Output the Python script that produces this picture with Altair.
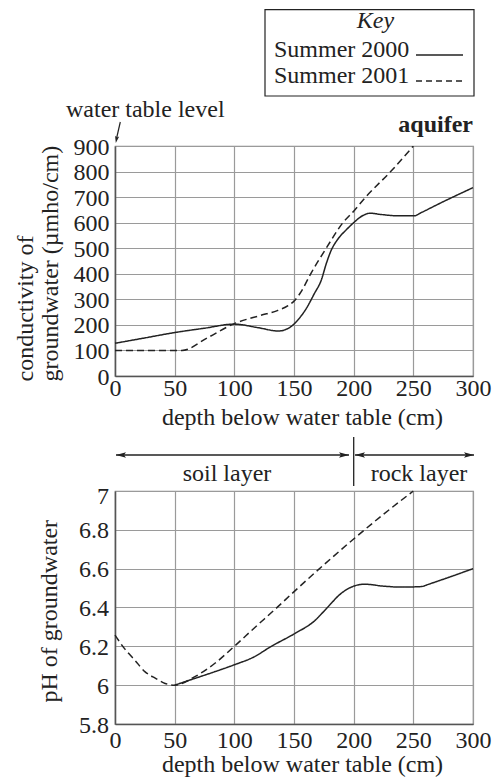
import altair as alt
import pandas as pd

FONT = "Liberation Serif"
INK = "#222222"
SERIES = ["Summer 2000", "Summer 2001"]

depth_ticks = [0, 50, 100, 150, 200, 250, 300]
cond_ticks = [0, 100, 200, 300, 400, 500, 600, 700, 800, 900]
ph_ticks = [5.8, 6, 6.2, 6.4, 6.6, 6.8, 7]

# conductivity of groundwater (umho/cm)
cond_2000_depth = [0, 25, 50, 75, 100, 120, 137, 143, 148, 153, 160, 167, 173, 177,
                   181, 187, 194, 200, 207, 214, 223, 237, 251, 256, 275, 300]
cond_2000 = [128, 149, 170, 187, 203, 189, 176, 182, 195, 218, 262, 322, 377, 439,
             490, 537, 573, 600, 626, 637, 632, 627, 627, 638, 682, 737]
cond_2001_depth = [0, 56, 78, 100, 122, 136, 145, 150, 156, 164, 177, 191, 200, 210,
                   231, 250]
cond_2001 = [100, 100, 151, 205, 237, 256, 275, 293, 330, 400, 500, 600, 645, 700,
             800, 900]

# pH of groundwater
ph_2000_depth = [50, 67, 84, 100, 116, 131, 151, 167, 178, 189, 200, 209, 225, 240,
                 257, 262, 280, 300]
ph_2000 = [6.0, 6.035, 6.07, 6.105, 6.144, 6.2, 6.267, 6.33, 6.40, 6.47, 6.51, 6.52,
           6.51, 6.505, 6.508, 6.518, 6.556, 6.6]
ph_2001_depth = [0, 8, 17, 25, 34, 42, 50, 67, 84, 100, 117, 134, 151, 175, 200, 225, 250]
ph_2001 = [6.258, 6.188, 6.126, 6.07, 6.035, 6.009, 6.0, 6.044, 6.114, 6.2, 6.296,
           6.39, 6.487, 6.62, 6.753, 6.88, 7.0]

cond_df = pd.concat([
    pd.DataFrame({"depth": cond_2000_depth, "value": cond_2000, "series": SERIES[0]}),
    pd.DataFrame({"depth": cond_2001_depth, "value": cond_2001, "series": SERIES[1]}),
])
ph_df = pd.concat([
    pd.DataFrame({"depth": ph_2000_depth, "value": ph_2000, "series": SERIES[0]}),
    pd.DataFrame({"depth": ph_2001_depth, "value": ph_2001, "series": SERIES[1]}),
])
one = pd.DataFrame({"k": [0]})

dash = alt.StrokeDash("series:N", scale=alt.Scale(domain=SERIES, range=[[1, 0], [7, 4]]),
                      legend=None)


def txt(s, x, y, align="left", **kw):
    return alt.Chart(one).mark_text(text=s, font=FONT, fontSize=24, color=INK, align=align,
                                    baseline="alphabetic", **kw).encode(
        x=alt.value(x), y=alt.value(y))


def rule(x, x2, y, y2, width=1.3, **kw):
    return alt.Chart(one).mark_rule(color=INK, strokeWidth=width, **kw).encode(
        x=alt.value(x), x2=alt.value(x2), y=alt.value(y), y2=alt.value(y2))


def head(x, y, shape, size, angle=0):
    return alt.Chart(one).mark_point(shape=shape, size=size, filled=True, color=INK,
                                     opacity=1, angle=angle).encode(
        x=alt.value(x), y=alt.value(y))


RIGHT = "M0,0L-2,-0.55L-1.6,0L-2,0.55Z"
LEFT = "M0,0L2,-0.55L1.6,0L2,0.55Z"
DOWN = "M0,0L-0.6,-2L0,-1.6L0.6,-2Z"

# ---------------- top chart ----------------
x_top = alt.X("depth:Q", scale=alt.Scale(domain=[0, 300], nice=False),
              axis=alt.Axis(values=depth_ticks, title="depth below water table (cm)",
                            titleX=187, titleY=48, titleBaseline="alphabetic",
                            titleAlign="center", labelPadding=0, labelFlush=False))
y_top = alt.Y("value:Q", scale=alt.Scale(domain=[0, 900], nice=False),
              axis=alt.Axis(values=cond_ticks, format="d",
                            title=["conductivity of", "groundwater (µmho/cm)"],
                            titleAngle=270, titleAlign="left", titleBaseline="alphabetic",
                            titleX=-83, titleY=235, titleLineHeight=25,
                            labelPadding=6, labelOffset=1, labelFlush=False))

top_lines = alt.Chart(cond_df).mark_line(interpolate="monotone", color=INK,
                                         strokeWidth=1.5).encode(
    x=x_top, y=y_top, strokeDash=dash)

anchor = alt.Chart(one).mark_rule(opacity=0, strokeWidth=0).encode(
    x=alt.value(-106), x2=alt.value(-105), y=alt.value(-137), y2=alt.value(-137))

key_box = alt.Chart(one).mark_rect(filled=False, stroke=INK, strokeWidth=1.2).encode(
    x=alt.value(150), x2=alt.value(359), y=alt.value(-136.3), y2=alt.value(-50))

top = alt.layer(
    top_lines,
    anchor,
    key_box,
    txt("Key", 260.5, -118, align="center", fontStyle="italic"),
    txt("Summer 2000", 159, -89),
    txt("Summer 2001", 159, -63),
    rule(301, 348, -91, -91),
    rule(301, 348, -65, -65, strokeDash=[6, 4]),
    txt("aquifer", 358, -14, align="right", fontWeight="bold"),
    txt("water table level", -49, -29),
    rule(5.3, 1.4, -24, -7, width=1.2),
    head(0.8, -3, DOWN, 49, angle=11),
).properties(width=358, height=230)

# ---------------- bottom chart ----------------
x_bot = alt.X("depth:Q", scale=alt.Scale(domain=[0, 300], nice=False),
              axis=alt.Axis(values=depth_ticks, title="depth below water table (cm)",
                            titleX=187, titleY=47, titleBaseline="alphabetic",
                            titleAlign="center", labelPadding=4, labelFlush=False))
y_bot = alt.Y("value:Q", scale=alt.Scale(domain=[5.8, 7.0], nice=False, zero=False),
              axis=alt.Axis(values=ph_ticks, format="~g", title="pH of groundwater",
                            titleAngle=270, titleAlign="left", titleBaseline="alphabetic",
                            titleX=-59, titleY=211, labelPadding=6.5, labelFlush=False,
                            labelOffset={"condition": {"test": "datum.value === 7",
                                                       "value": 5}, "value": 1}))

bot_lines = alt.Chart(ph_df).mark_line(interpolate="monotone", color=INK,
                                       strokeWidth=1.5).encode(
    x=x_bot, y=y_bot, strokeDash=dash)

bottom = alt.layer(
    bot_lines,
    rule(1, 234, -36, -36),
    rule(240, 359, -36, -36),
    head(1, -36, LEFT, 100),
    head(234, -36, RIGHT, 100),
    head(240, -36, LEFT, 100),
    head(359, -36, RIGHT, 100),
    rule(238.7, 238.7, -54, -5),
    txt("soil layer", 112, -10, align="center"),
    txt("rock layer", 304, -10, align="center"),
).properties(width=358, height=233)

chart = alt.vconcat(top, bottom, spacing=115, bounds="flush").properties(
    padding=0
).configure_axis(
    labelFont=FONT, labelFontSize=24, labelColor=INK,
    titleFont=FONT, titleFontSize=24, titleFontWeight="normal", titleColor=INK,
    grid=True, gridColor="#9a9a9a", gridWidth=1.2,
    domainColor="#555555", domainWidth=1.5,
    ticks=False, tickSize=0,
).configure_view(stroke="#8a8a8a", strokeWidth=1.2)

chart.save("out.html", embed_options={"renderer": "svg", "actions": False})
